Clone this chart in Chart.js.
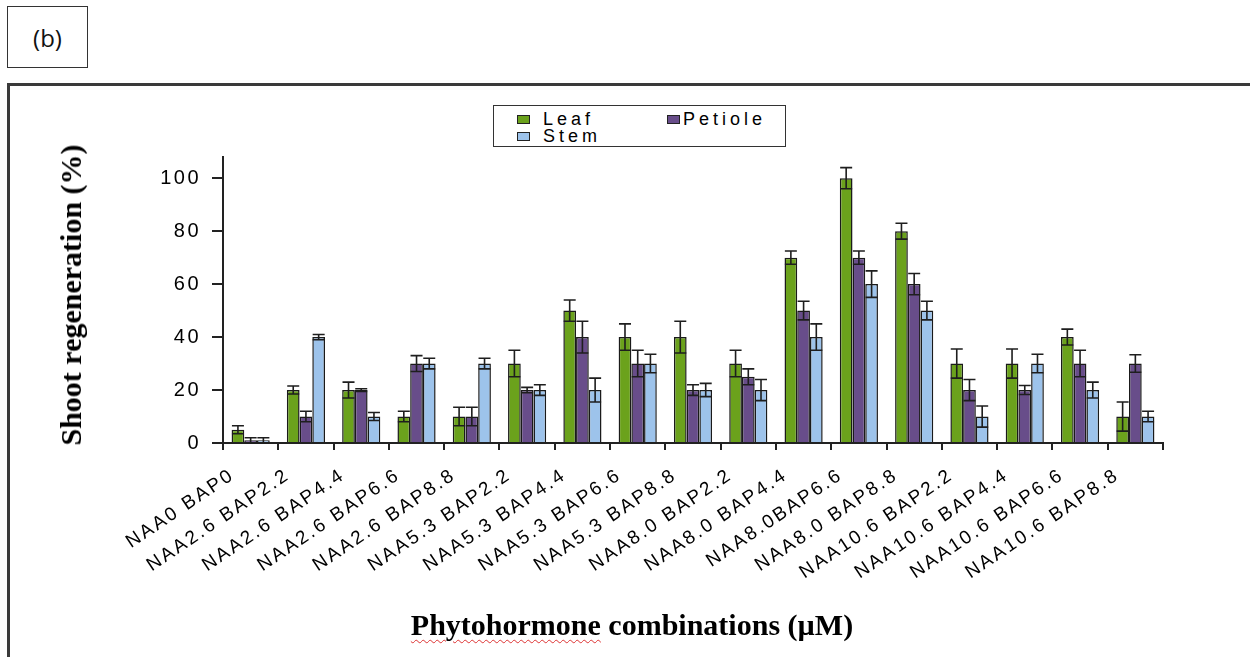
<!DOCTYPE html>
<html>
<head>
<meta charset="utf-8">
<script src="https://cdn.jsdelivr.net/npm/chart.js@4"></script>
<style>
	body { margin: 0; background: #fff; width: 1250px; height: 657px; overflow: hidden; position: relative; font-family: "Liberation Sans", Arial, sans-serif; }
	#tag { position: absolute; left: 7px; top: 6px; width: 81px; height: 62px; box-sizing: border-box; border: 1px solid #333; display: flex; align-items: center; justify-content: center; font-family: "Open Sans", sans-serif; font-size: 24px; color: #111; }
	#frame { position: absolute; left: 7px; top: 83px; width: 1400px; height: 700px; border: 3px solid #3a3a3a; }
	#wrap { position: absolute; left: 0; top: 0; width: 1250px; height: 657px; }
	#legend { position: absolute; left: 493px; top: 105px; width: 293px; height: 42px; box-sizing: border-box; border: 1.5px solid #333; background: #fff; }
	.sw { position: absolute; width: 13px; height: 9px; box-sizing: border-box; border: 1.5px solid #222; }
	.lt { position: absolute; font-size: 18px; letter-spacing: 4px; line-height: 18px; color: #000; }
	#ytitle { position: absolute; left: 71px; top: 295px; transform: translate(-50%, -50%) rotate(-90deg); white-space: nowrap; font-family: "Liberation Serif", "Times New Roman", serif; font-weight: bold; font-size: 30px; color: #000; }
	#xtitle { position: absolute; left: 632px; top: 625px; transform: translate(-50%, -50%); white-space: nowrap; font-family: "Liberation Serif", "Times New Roman", serif; font-weight: bold; font-size: 30px; color: #000; }
	#xtitle .sp { text-decoration: underline wavy #d33; text-decoration-thickness: 1px; text-underline-offset: 4px; }
</style>
</head>
<body>
<div id="tag">(b)</div>
<div id="frame"></div>
<div id="wrap"><canvas id="chart"></canvas></div>
<div id="legend">
	<div class="sw" style="left:23px; top:9px; background:#6ba21c;"></div>
	<div class="lt" style="left:49px; top:4px;">Leaf</div>
	<div class="sw" style="left:173px; top:9px; background:#684d8a;"></div>
	<div class="lt" style="left:189px; top:4px;">Petiole</div>
	<div class="sw" style="left:23px; top:26px; background:#9dc3eb;"></div>
	<div class="lt" style="left:49px; top:21px;">Stem</div>
</div>
<div id="ytitle">Shoot regeneration (%)</div>
<div id="xtitle"><span class="sp">Phytohormone</span> combinations (µM)</div>
<script>
// Shoot regeneration per phytohormone combination, three explant types
const categories = [
	"NAA0 BAP0", "NAA2.6 BAP2.2", "NAA2.6 BAP4.4", "NAA2.6 BAP6.6", "NAA2.6 BAP8.8",
	"NAA5.3 BAP2.2", "NAA5.3 BAP4.4", "NAA5.3 BAP6.6", "NAA5.3 BAP8.8",
	"NAA8.0 BAP2.2", "NAA8.0 BAP4.4", "NAA8.0BAP6.6", "NAA8.0 BAP8.8",
	"NAA10.6 BAP2.2", "NAA10.6 BAP4.4", "NAA10.6 BAP6.6", "NAA10.6 BAP8.8",
];
const leaf = [5, 20, 20, 10, 10, 30, 50, 40, 40, 30, 70, 100, 80, 30, 30, 40, 10];
const leafErr = [1.5, 1.5, 3, 2, 3.5, 5, 4, 5, 6, 5, 2.5, 4, 3, 5.5, 5.5, 3, 5.5];
const petiole = [1, 10, 20, 30, 10, 20, 40, 30, 20, 25, 50, 70, 60, 20, 20, 30, 30];
const petioleErr = [1, 2, 0.5, 3, 3.5, 1, 6, 5, 2, 3, 3.5, 2.5, 4, 4, 1.7, 5, 3.3];
const stem = [1, 40, 10, 30, 30, 20, 20, 30, 20, 20, 40, 60, 50, 10, 30, 20, 10];
const stemErr = [1, 1, 1.5, 2, 2, 2, 4.5, 3.5, 2.5, 4, 5, 5, 3.5, 4, 3.5, 3, 2];
const yTicks = [0, 20, 40, 60, 80, 100];

const errors = [leafErr, petioleErr, stemErr];

const letterSpacing = {
	id: "letterSpacing",
	beforeDraw(chart) {
		chart.ctx.letterSpacing = "2.5px";
	},
};

const errorBars = {
	id: "errorBars",
	afterDatasetsDraw(chart) {
		const ctx = chart.ctx;
		const y = chart.scales.y;
		ctx.save();
		ctx.strokeStyle = "#1e1e1e";
		ctx.lineWidth = 1.6;
		chart.data.datasets.forEach((ds, i) => {
			const meta = chart.getDatasetMeta(i);
			meta.data.forEach((bar, j) => {
				const v = ds.data[j];
				const e = errors[i][j];
				const top = y.getPixelForValue(v + e);
				const bot = y.getPixelForValue(Math.max(v - e, 0));
				const half = 6;
				ctx.beginPath();
				ctx.moveTo(bar.x, top);
				ctx.lineTo(bar.x, bot);
				ctx.moveTo(bar.x - half, top);
				ctx.lineTo(bar.x + half, top);
				ctx.moveTo(bar.x - half, bot);
				ctx.lineTo(bar.x + half, bot);
				ctx.stroke();
			});
		});
		ctx.restore();
	},
};

const barStyle = { borderColor: "#1a1a1a", borderWidth: 1.5, categoryPercentage: 0.69, barPercentage: 1.0 };

new Chart(document.getElementById("chart"), {
	type: "bar",
	data: {
		labels: categories,
		datasets: [
			{ label: "Leaf", data: leaf, backgroundColor: "#6ba21c", ...barStyle },
			{ label: "Petiole", data: petiole, backgroundColor: "#684d8a", ...barStyle },
			{ label: "Stem", data: stem, backgroundColor: "#9dc3eb", ...barStyle },
		],
	},
	options: {
		responsive: true,
		maintainAspectRatio: false,
		animation: false,
		layout: { padding: { left: 0, right: 87, top: 157, bottom: 0 } },
		plugins: { legend: { display: false }, tooltip: { enabled: false } },
		scales: {
			x: {
				offset: true,
				grid: { display: true, offset: true, drawOnChartArea: false, drawTicks: true, tickLength: 7, color: "#222", lineWidth: 2, tickWidth: 2 },
				border: { display: true, color: "#222", width: 2 },
				ticks: {
					color: "#000",
					font: { family: "'Liberation Sans', Arial, sans-serif", size: 19 },
					minRotation: 34,
					maxRotation: 34,
					autoSkip: false,
					padding: 14,
					labelOffset: -18,
				},
				afterFit(s) {
					s.height = 214;
					s.paddingLeft = 0;
					s.paddingRight = 0;
				},
			},
			y: {
				min: 0,
				max: 108,
				grid: { display: true, drawOnChartArea: false, drawTicks: true, tickLength: 11, color: "#222", lineWidth: 2, tickWidth: 2 },
				border: { display: true, color: "#222", width: 2 },
				ticks: {
					color: "#000",
					font: { family: "'Liberation Sans', Arial, sans-serif", size: 20 },
					padding: 11,
				},
				afterBuildTicks(s) {
					s.ticks = yTicks.map((v) => ({ value: v }));
				},
				afterFit(s) {
					s.width = 223;
					s.paddingTop = 0;
					s.paddingBottom = 0;
				},
			},
		},
	},
	plugins: [letterSpacing, errorBars],
});
</script>
</body>
</html>
